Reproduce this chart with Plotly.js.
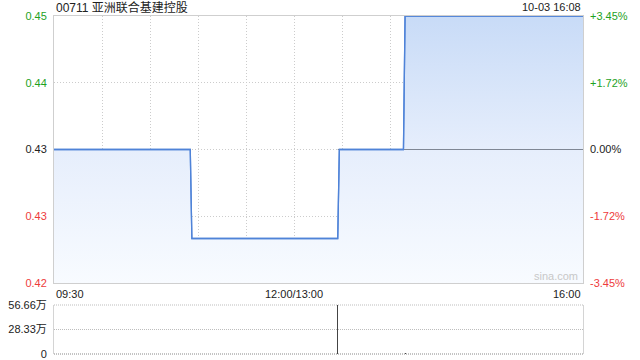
<!DOCTYPE html>
<html>
<head>
<meta charset="utf-8">
<script src="https://cdn.plot.ly/plotly-3.0.1.min.js"></script>
<style>
  html, body { margin: 0; padding: 0; background: #fff; }
  #chart { width: 640px; height: 360px; }
</style>
</head>
<body>
<div id="chart"></div>
<script>
// Intraday quote for 00711 on 10-03
const stockName = '00711 亚洲联合基建控股';
const stampText = '10-03 16:08';
const prevClose = 0.435;

// Price path (HH:MM, price)
const priceTimes  = ['09:30', '10:55', '10:56', '13:27', '13:28', '14:08', '14:09', '16:00'];
const priceValues = [0.435, 0.435, 0.425, 0.425, 0.435, 0.435, 0.45, 0.45];

// Average price exists only once trades have printed
const avgTimes  = ['13:27', '16:00'];
const avgValues = [0.435, 0.435];

// Per-minute volume (shares)
const volTimes  = ['10:56', '13:27', '14:09'];
const volValues = [3000, 566600, 6000];

// Price axis ticks
const priceTicks      = [0.42, 0.4275, 0.435, 0.4425, 0.45];
const priceTickLabels = ['0.42', '0.43', '0.43', '0.44', '0.45'];
const pctTickLabels   = ['-3.45%', '-1.72%', '0.00%', '+1.72%', '+3.45%'];

// Volume axis ticks
const volTicks      = [0, 283300, 566600];
const volTickLabels = ['0', '28.33万', '56.66万'];

// Time axis labels
const timeLabels    = ['09:30', '12:00/13:00', '16:00'];
const timeLabelAt   = ['09:30', '12:00', '16:00'];

const UP = '#1ea21e', DOWN = '#ee3b3b', FLAT = '#222';
const FONT = 'Liberation Sans, Arial, Noto Sans CJK SC, sans-serif';

// Map a clock time to minutes of trading (lunch break removed)
function tradeMin(t) {
  const [h, m] = t.split(':').map(Number);
  const mins = h * 60 + m;
  if (mins <= 12 * 60) return mins - (9 * 60 + 30);
  return 150 + (mins - 13 * 60);
}
const xs = arr => arr.map(tradeMin);
const sessionEnd = tradeMin('16:00');

function tone(v) {
  if (v > prevClose + 1e-9) return UP;
  if (v < prevClose - 1e-9) return DOWN;
  return FLAT;
}
const leftText  = priceTicks.map((v, i) => `<span style="color:${tone(v)}">${priceTickLabels[i]}</span>`);
const rightText = priceTicks.map((v, i) => `<span style="color:${tone(v)}">${pctTickLabels[i]}</span>`);

const yMin = priceTicks[0], yMax = priceTicks[priceTicks.length - 1];

const traces = [
  { // fill floor
    x: [0, sessionEnd], y: [yMin, yMin], mode: 'lines',
    line: { width: 0, color: 'rgba(0,0,0,0)' }, hoverinfo: 'skip', showlegend: false,
    xaxis: 'x', yaxis: 'y'
  },
  { // price line with gradient area
    x: xs(priceTimes), y: priceValues, mode: 'lines',
    line: { color: '#4f83d8', width: 1.3 },
    fill: 'tonexty',
    fillgradient: {
      type: 'vertical', start: yMin, stop: yMax,
      colorscale: [[0, '#f8fbff'], [0.5, '#e6eefc'], [1, '#c8dbf7']]
    },
    showlegend: false, xaxis: 'x', yaxis: 'y'
  },
  { // average price
    x: xs(avgTimes), y: avgValues, mode: 'lines',
    line: { color: '#7f8794', width: 1 },
    showlegend: false, xaxis: 'x', yaxis: 'y'
  },
  { // price line drawn again above the average
    x: xs(priceTimes), y: priceValues, mode: 'lines',
    line: { color: '#4f83d8', width: 1.3 },
    showlegend: false, xaxis: 'x', yaxis: 'y'
  },
  { // carries the percentage axis
    x: [0, sessionEnd], y: [yMin, yMax], mode: 'lines',
    line: { width: 0, color: 'rgba(0,0,0,0)' }, hoverinfo: 'skip', showlegend: false,
    xaxis: 'x', yaxis: 'y2'
  },
  { // volume
    type: 'bar', x: xs(volTimes), y: volValues, width: 0.7,
    marker: { color: '#444', line: { width: 0 } },
    showlegend: false, xaxis: 'x2', yaxis: 'y3'
  }
];

const gridStyle = { gridcolor: '#cccccc', griddash: '1px,2px', gridwidth: 1 };
const px = p => (360 - p) / 360;   // pixel row to paper fraction

const annotations = [
  { text: stockName, x: 0, xref: 'paper', xanchor: 'left', y: px(7), yref: 'paper', yanchor: 'middle',
    showarrow: false, font: { family: FONT, size: 12, color: '#222' } },
  { text: stampText, x: 1, xref: 'paper', xanchor: 'right', y: px(7), yref: 'paper', yanchor: 'middle',
    showarrow: false, font: { family: FONT, size: 11, color: '#222' } },
  { text: 'sina.com', x: 0.995, xref: 'paper', xanchor: 'right', y: px(276), yref: 'paper', yanchor: 'middle',
    showarrow: false, font: { family: FONT, size: 11, color: '#c8c8c8' } }
];
timeLabels.forEach((t, i) => {
  const anchor = i === 0 ? 'left' : (i === timeLabels.length - 1 ? 'right' : 'center');
  annotations.push({
    text: t, x: tradeMin(timeLabelAt[i]), xref: 'x', xanchor: anchor,
    y: px(294), yref: 'paper', yanchor: 'middle', showarrow: false,
    font: { family: FONT, size: 11, color: '#222' }
  });
});

// Dotted frame lines across the volume panel
const volShapes = [305, 354].map(p => ({
  type: 'line', xref: 'paper', yref: 'paper', x0: 0, x1: 1, y0: px(p), y1: px(p),
  line: { color: p === 354 ? '#888' : '#bdbdbd', width: 1, dash: '1px,1px' }
}));

const layout = {
  width: 640, height: 360,
  margin: { l: 54, r: 57, t: 0, b: 0, pad: 0 },
  paper_bgcolor: '#fff', plot_bgcolor: 'rgba(0,0,0,0)',
  font: { family: FONT, size: 11, color: '#222' },
  showlegend: false,
  xaxis: {
    domain: [0, 1], range: [0, sessionEnd], tick0: 0, dtick: 30,
    showticklabels: false, ticks: '', zeroline: false,
    showgrid: true, ...gridStyle,
    showline: true, mirror: true, linecolor: '#cfcfcf', linewidth: 1,
    anchor: 'y', fixedrange: true
  },
  yaxis: {
    domain: [px(283), px(16)], range: [yMin, yMax],
    tickmode: 'array', tickvals: priceTicks, ticktext: leftText,
    ticks: '', ticklabelstandoff: 4, zeroline: false,
    showgrid: true, ...gridStyle,
    showline: true, mirror: true, linecolor: '#cfcfcf', linewidth: 1,
    tickfont: { family: FONT, size: 11 }, anchor: 'x', fixedrange: true
  },
  yaxis2: {
    overlaying: 'y', side: 'right', range: [yMin, yMax],
    tickmode: 'array', tickvals: priceTicks, ticktext: rightText,
    ticks: '', ticklabelstandoff: 6, showgrid: false, zeroline: false, showline: false,
    tickfont: { family: FONT, size: 11 }, anchor: 'x', fixedrange: true
  },
  xaxis2: {
    domain: [0, 1], range: [0, sessionEnd], showticklabels: false, ticks: '',
    showgrid: false, zeroline: false, showline: false, anchor: 'y3', fixedrange: true
  },
  yaxis3: {
    domain: [px(354), px(305)], range: [0, volTicks[volTicks.length - 1]],
    tickmode: 'array', tickvals: volTicks, ticktext: volTickLabels,
    ticks: '', ticklabelstandoff: 4, zeroline: false,
    showgrid: true, gridcolor: '#bdbdbd', griddash: '1px,1px', gridwidth: 1,
    showline: true, mirror: true, linecolor: '#d4d4d4', linewidth: 1,
    tickfont: { family: FONT, size: 11, color: '#222' }, anchor: 'x2', fixedrange: true
  },
  bargap: 0,
  shapes: volShapes,
  annotations: annotations
};

Plotly.newPlot('chart', traces, layout, { displayModeBar: false, staticPlot: true });
</script>
</body>
</html>
